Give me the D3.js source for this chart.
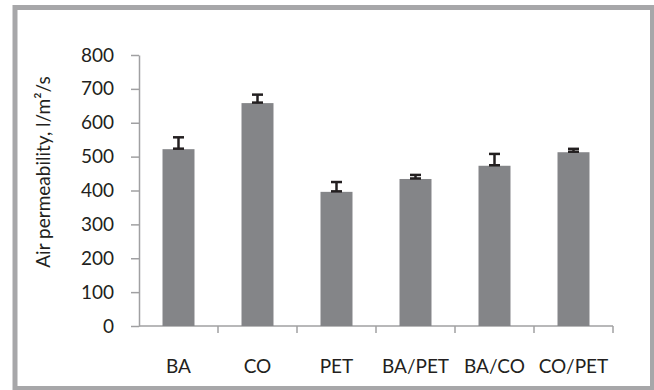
<!DOCTYPE html>
<html>
<head>
<meta charset="utf-8">
<script src="https://cdn.jsdelivr.net/npm/d3@7"></script>
<style>
  html, body { margin: 0; padding: 0; background: #fff; }
  svg { display: block; }
  text { font-family: Lato, "Open Sans", "Liberation Sans", sans-serif; fill: #231f20; }
</style>
</head>
<body>
<svg id="chart" width="654" height="390"></svg>
<script>
// Fabric types and their measured air permeability (mean and +error)
const categories = ["BA", "CO", "PET", "BA/PET", "BA/CO", "CO/PET"];
const values = [522, 658, 396, 434, 473, 513];
const errors = [35, 25, 29, 12, 35, 10];
const yTicks = [0, 100, 200, 300, 400, 500, 600, 700, 800];
const yLabel = "Air permeability, l/m\u00B2/s";

const svg = d3.select("#chart");

// Frame around the whole figure
svg.append("rect")
  .attr("x", 15).attr("y", 7.5)
  .attr("width", 637.5).attr("height", 381)
  .attr("fill", "#fff")
  .attr("stroke", "#a7a7a9")
  .attr("stroke-width", 5);

const x = d3.scaleBand()
  .domain(categories)
  .range([139, 613])
  .paddingInner(0.595)
  .paddingOuter(0.2975);

const y = d3.scaleLinear()
  .domain([0, 800])
  .range([326, 55]);

const axisColor = "#a0a0a2";

// Y axis
const yAxis = svg.append("g")
  .attr("transform", "translate(139,0)")
  .call(d3.axisLeft(y).tickValues(yTicks).tickSize(8).tickPadding(17).tickSizeOuter(0));
yAxis.select(".domain").attr("stroke", axisColor).attr("stroke-width", 1.5);
yAxis.selectAll(".tick line").attr("stroke", axisColor).attr("stroke-width", 1.5);
yAxis.selectAll(".tick text")
  .attr("font-size", 19)
  .attr("font-family", null)
  .attr("fill", "#231f20");

// X axis with tick marks on category boundaries
const xAxisG = svg.append("g").attr("transform", "translate(0,326)");
xAxisG.append("line")
  .attr("x1", 139).attr("x2", 613)
  .attr("y1", 0).attr("y2", 0)
  .attr("stroke", axisColor).attr("stroke-width", 1.5);
const step = x.step();
const boundaries = categories.map(c => x(c) + x.bandwidth() + (step - x.bandwidth()) / 2);
xAxisG.selectAll(".btick").data(boundaries).join("line")
  .attr("x1", d => d).attr("x2", d => d)
  .attr("y1", 0).attr("y2", 7)
  .attr("stroke", axisColor).attr("stroke-width", 1.5);
xAxisG.selectAll(".xlab").data(categories).join("text")
  .attr("x", d => x(d) + x.bandwidth() / 2)
  .attr("y", 47)
  .attr("text-anchor", "middle")
  .attr("font-size", 19)
  .text(d => d);

// Bars
svg.selectAll(".bar").data(categories).join("rect")
  .attr("x", d => x(d))
  .attr("y", (d, i) => y(values[i]))
  .attr("width", x.bandwidth())
  .attr("height", (d, i) => y(0) - y(values[i]))
  .attr("fill", "#848588");

// Error bars (upper)
const capW = 11;
const cx = d => x(d) + x.bandwidth() / 2;
const eb = svg.selectAll(".err").data(categories).join("g")
  .attr("stroke", "#231f20")
  .attr("stroke-width", 2.5);
eb.append("line")
  .attr("x1", cx).attr("x2", cx)
  .attr("y1", (d, i) => y(values[i]))
  .attr("y2", (d, i) => y(values[i] + errors[i]));
eb.append("line")
  .attr("x1", d => cx(d) - capW / 2)
  .attr("x2", d => cx(d) + capW / 2)
  .attr("y1", (d, i) => y(values[i] + errors[i]))
  .attr("y2", (d, i) => y(values[i] + errors[i]));
eb.append("line")
  .attr("x1", d => cx(d) - capW / 2)
  .attr("x2", d => cx(d) + capW / 2)
  .attr("y1", (d, i) => y(values[i]) - 0.5)
  .attr("y2", (d, i) => y(values[i]) - 0.5);

// Y axis title
svg.append("text")
  .attr("transform", "translate(50,172) rotate(-90)")
  .attr("text-anchor", "middle")
  .attr("font-size", 19)
  .text(yLabel);
</script>
</body>
</html>
